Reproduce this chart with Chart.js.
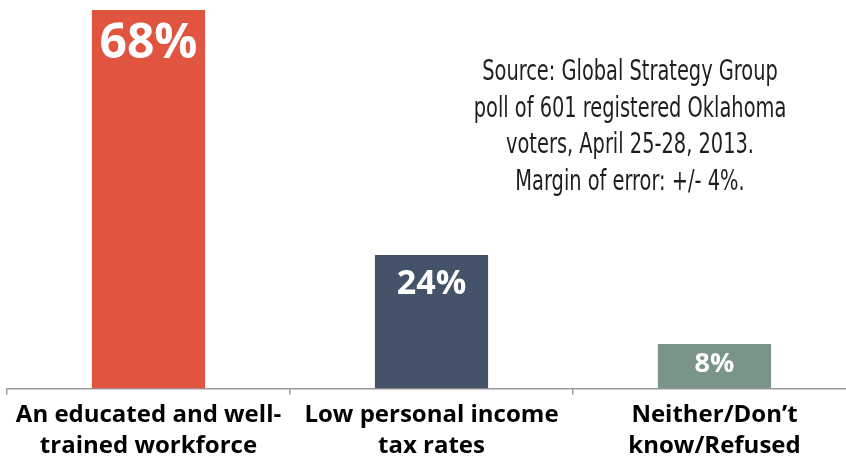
<!DOCTYPE html>
<html>
<head>
<meta charset="utf-8">
<script src="https://cdn.jsdelivr.net/npm/chart.js@4.4.1/dist/chart.umd.min.js"></script>
<style>
  html, body { margin: 0; padding: 0; background: #fff; overflow: hidden; }
  #wrap { width: 860px; height: 460px; }
</style>
</head>
<body>
<div id="wrap"><canvas id="chart"></canvas></div>
<script>
// chart values
const categories = [
    ['An educated and well-', 'trained workforce'],
    ['Low personal income', 'tax rates'],
    ['Neither/Don\u2019t', 'know/Refused']
];
const percentages = [68, 24, 8];
const barColors = ['#E05440', '#44536A', '#7A9488'];
const sourceLines = [
    'Source: Global Strategy Group',
    'poll of 601 registered Oklahoma',
    'voters, April 25-28, 2013.',
    'Margin of error: +/- 4%.'
];

// white value labels inside the top of each bar
const valueLabels = {
    id: 'valueLabels',
    afterDatasetsDraw(chart) {
        const sizes = [48, 34, 27];
        const offsets = [34, 29, 20];
        const ctx = chart.ctx;
        const meta = chart.getDatasetMeta(0);
        ctx.save();
        ctx.fillStyle = '#ffffff';
        ctx.textAlign = 'center';
        ctx.textBaseline = 'middle';
        meta.data.forEach((bar, i) => {
            ctx.font = 'bold ' + sizes[i] + 'px "Open Sans"';
            ctx.fillText(percentages[i] + '%', bar.x, bar.y + offsets[i]);
        });
        ctx.restore();
    }
};

// source note in the upper right (condensed look via horizontal squeeze)
const sourceNote = {
    id: 'sourceNote',
    afterDraw(chart) {
        const ctx = chart.ctx;
        ctx.save();
        ctx.fillStyle = '#1e1e1e';
        ctx.textAlign = 'center';
        ctx.textBaseline = 'middle';
        ctx.font = '28px "Liberation Sans Narrow", "DejaVu Sans Condensed"';
        ctx.translate(630, 0);
        ctx.scale(0.77, 1);
        sourceLines.forEach((line, i) => {
            ctx.fillText(line, 0, 73 + i * 36.5);
        });
        ctx.restore();
    }
};

new Chart(document.getElementById('chart'), {
    type: 'bar',
    data: {
        labels: categories,
        datasets: [{
            data: percentages,
            backgroundColor: barColors,
            borderWidth: 0,
            categoryPercentage: 1,
            barPercentage: 0.4
        }]
    },
    options: {
        responsive: true,
        maintainAspectRatio: false,
        animation: false,
        layout: { padding: { left: 7, right: 4, top: 10, bottom: -7 } },
        plugins: {
            legend: { display: false },
            tooltip: { enabled: false }
        },
        scales: {
            x: {
                offset: true,
                grid: {
                    offset: true,
                    drawOnChartArea: false,
                    drawTicks: true,
                    tickLength: 6,
                    color: '#9a9a9a',
                    lineWidth: 1.5
                },
                border: { color: '#9a9a9a', width: 1.5 },
                ticks: {
                    color: '#000000',
                    padding: 5,
                    maxRotation: 0,
                    autoSkip: false,
                    font: { family: '"Open Sans"', size: 24, weight: 'bold', lineHeight: 1.3 }
                }
            },
            y: {
                display: false,
                min: 0,
                max: 68
            }
        }
    },
    plugins: [valueLabels, sourceNote]
});
</script>
</body>
</html>
